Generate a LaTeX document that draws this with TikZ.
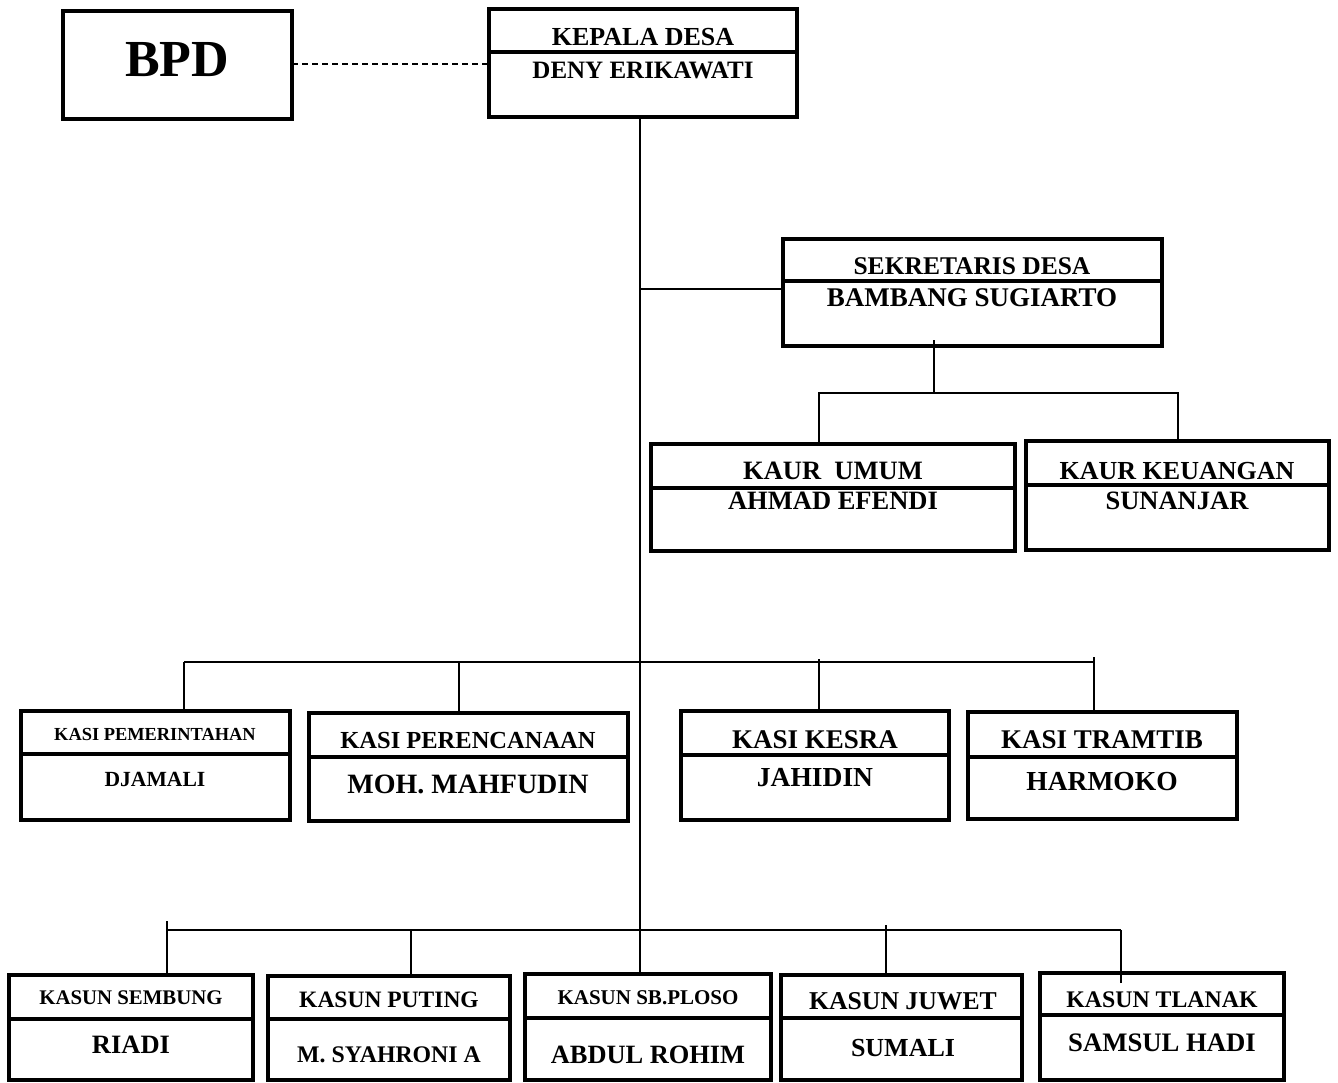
\documentclass[tikz,border=0pt]{standalone}
\usepackage{fontspec}
\setmainfont{Liberation Serif}
\newcommand\fsz[1]{\fontsize{#1}{#1}\selectfont\bfseries}
\newcommand\obox[6]{%
  \node[boxst, anchor=north west, minimum width={#4-#2}, minimum height={#5-#3}] (#1) at (#2,#3) {};
  \draw[divst] (#1.west |- 0,#6) -- (#1.east |- 0,#6);
}
\tikzset{
  boxst/.style={draw, line width=3.2pt, inner sep=0pt, outer sep=0pt},
  divst/.style={line width=3.2pt},
  conn/.style={line width=1.5pt},
  lbl/.style={inner sep=0pt, outer sep=0pt, anchor=center}
}
\begin{document}
\begin{tikzpicture}[x=1pt,y=-1pt]
\useasboundingbox[fill=white] (0,0) rectangle (1338,1082);

% boxes
\node[boxst, anchor=north west, minimum width=229, minimum height=108] (bpd) at (63,11) {};
\obox{kades}{489}{9}{797}{117}{52}
\obox{sekdes}{783}{239}{1162}{346}{281}
\obox{kaurumum}{651}{444}{1015}{551}{488}
\obox{kaurkeu}{1026}{441}{1329}{550}{485}
\obox{kasipem}{21}{711}{290}{820}{754}
\obox{kasiperen}{309}{713}{628}{821}{757}
\obox{kesra}{681}{711}{949}{820}{755}
\obox{tramtib}{968}{712}{1237}{819}{757}
\obox{sembung}{9}{975}{253}{1080}{1019}
\obox{puting}{268}{976}{510}{1080}{1019}
\obox{sbploso}{525}{974}{771}{1080}{1018}
\obox{juwet}{781}{975}{1022}{1080}{1018}
\obox{tlanak}{1040}{973}{1284}{1080}{1015}

% texts
\node[lbl, font=\fsz{52}] (bpdt) at (177,60) {BPD};
\node[lbl, font=\fsz{26}] (kadesa) at (643,37) {KEPALA DESA};
\node[lbl, font=\fsz{25}] (kadesb) at (643,70) {DENY ERIKAWATI};
\node[lbl, font=\fsz{25.5}] (sekdesa) at (972,266) {SEKRETARIS DESA};
\node[lbl, font=\fsz{27}] (sekdesb) at (972,298) {BAMBANG SUGIARTO};
\node[lbl, font=\fsz{26.5}] (kaurumuma) at (833,471) {KAUR\ \ UMUM};
\node[lbl, font=\fsz{26.5}] (kaurumumb) at (833,501) {AHMAD EFENDI};
\node[lbl, font=\fsz{26}] (kaurkeua) at (1177,471) {KAUR KEUANGAN};
\node[lbl, font=\fsz{26.5}] (kaurkeub) at (1177,501) {SUNANJAR};
\node[lbl, font=\fsz{18.4}] (kasipema) at (155,734) {KASI PEMERINTAHAN};
\node[lbl, font=\fsz{21.6}] (kasipemb) at (155,779) {DJAMALI};
\node[lbl, font=\fsz{24.5}] (kasiperena) at (468,740) {KASI PERENCANAAN};
\node[lbl, font=\fsz{28}] (kasiperenb) at (468,784) {MOH. MAHFUDIN};
\node[lbl, font=\fsz{27}] (kesraa) at (815,740) {KASI KESRA};
\node[lbl, font=\fsz{27.5}] (kesrab) at (815,778) {JAHIDIN};
\node[lbl, font=\fsz{27}] (tramtiba) at (1102,740) {KASI TRAMTIB};
\node[lbl, font=\fsz{27.5}] (tramtibb) at (1102,782) {HARMOKO};
\node[lbl, font=\fsz{20.8}] (sembunga) at (131,998) {KASUN SEMBUNG};
\node[lbl, font=\fsz{26.5}] (sembungb) at (131,1045) {RIADI};
\node[lbl, font=\fsz{23.5}] (putinga) at (389,1000) {KASUN PUTING};
\node[lbl, font=\fsz{23.8}] (putingb) at (389,1055) {M. SYAHRONI A};
\node[lbl, font=\fsz{21}] (sbplosoa) at (648,998) {KASUN SB.PLOSO};
\node[lbl, font=\fsz{26.4}] (sbplosob) at (648,1055) {ABDUL ROHIM};
\node[lbl, font=\fsz{25.7}] (juweta) at (903,1001) {KASUN JUWET};
\node[lbl, font=\fsz{26}] (juwetb) at (903,1048) {SUMALI};
\node[lbl, font=\fsz{23.8}] (tlanaka) at (1162,1000) {KASUN TLANAK};
\node[lbl, font=\fsz{26.7}] (tlanakb) at (1162,1043) {SAMSUL HADI};

% junction coordinates
\coordinate (j1) at (640,289);
\coordinate (b2l) at (819,393);
\coordinate (b2r) at (1178,393);
\coordinate (b2m) at (934,393);
\coordinate (b3a) at (184,662);
\coordinate (b3b) at (459,662);
\coordinate (b3c) at (819,662);
\coordinate (b3d) at (1094,662);
\coordinate (b4a) at (167,930);
\coordinate (b4b) at (411,930);
\coordinate (b4d) at (886,930);
\coordinate (b4e) at (1121,930);

% connectors
\draw[conn, dashed, dash pattern=on 6pt off 4pt] (bpd.east |- 0,64) -- (kades.west |- 0,64);
\draw[conn] (kades.south -| 640,0) -- (sbploso.north -| 640,0);
\draw[conn] (j1) -- (sekdes.west |- j1);
\draw[conn] ([yshift=6pt]sekdes.south -| b2m) -- (b2m);
\draw[conn] (kaurumum.north -| b2l) -- (b2l) -- (b2r) -- (kaurkeu.north -| b2r);
\draw[conn] (b3a) -- (b3d);
\draw[conn] (kasipem.north -| b3a) -- (b3a);
\draw[conn] (kasiperen.north -| b3b) -- (b3b);
\draw[conn] (kesra.north -| b3c) -- ([yshift=3pt]b3c);
\draw[conn] (tramtib.north -| b3d) -- ([yshift=5pt]b3d);
\draw[conn] (b4a) -- (b4e);
\draw[conn] (sembung.north -| b4a) -- ([yshift=9pt]b4a);
\draw[conn] (puting.north -| b4b) -- (b4b);
\draw[conn] (juwet.north -| b4d) -- ([yshift=5pt]b4d);
\draw[conn] ([yshift=-10pt]tlanak.north -| b4e) -- (b4e);
\end{tikzpicture}
\end{document}
